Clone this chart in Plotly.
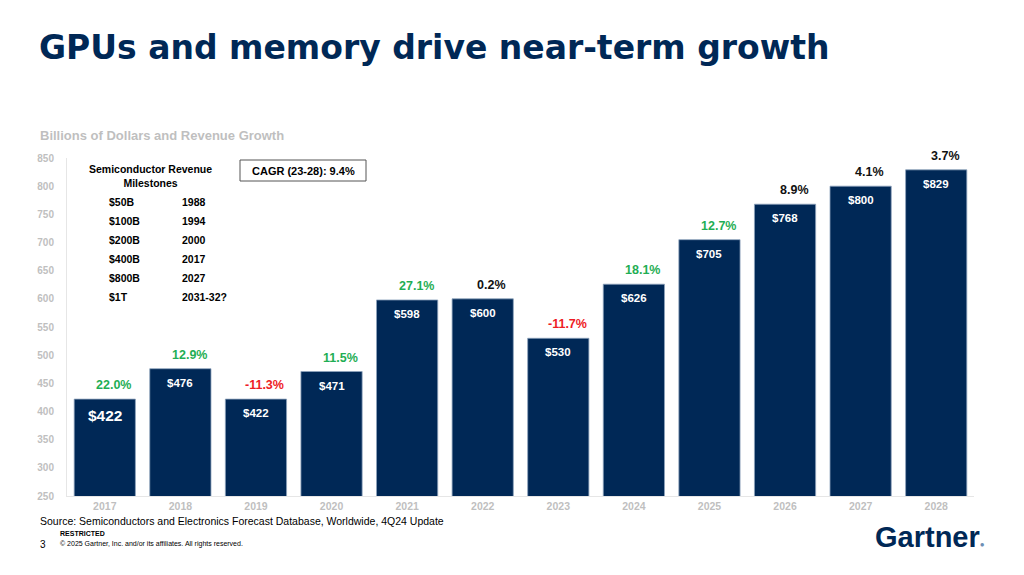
import plotly.graph_objects as go

years = ["2017", "2018", "2019", "2020", "2021", "2022", "2023", "2024", "2025", "2026", "2027", "2028"]
revenue = [422, 476, 422, 471, 598, 600, 530, 626, 705, 768, 800, 829]
growth = ["22.0%", "12.9%", "-11.3%", "11.5%", "27.1%", "0.2%", "-11.7%", "18.1%", "12.7%", "8.9%", "4.1%", "3.7%"]
growth_kind = ["up", "up", "down", "up", "up", "flat", "down", "up", "up", "flat", "flat", "flat"]
value_labels = ["$422", "$476", "$422", "$471", "$598", "$600", "$530", "$626", "$705", "$768", "$800", "$829"]
y_ticks = [250, 300, 350, 400, 450, 500, 550, 600, 650, 700, 750, 800, 850]

milestone_amounts = ["$50B", "$100B", "$200B", "$400B", "$800B", "$1T"]
milestone_years = ["1988", "1994", "2000", "2017", "2027", "2031-32?"]

NAVY = "#002856"
GREEN = "#1fae54"
RED = "#ee1c25"
GRAY = "#bfbfbf"
FONT = "Liberation Sans"
kind_color = {"up": GREEN, "down": RED, "flat": "#111111"}

W, H = 1024, 575

fig = go.Figure()
fig.add_trace(go.Bar(
    x=years, y=revenue,
    marker=dict(color=NAVY, line=dict(color="#8ea3bd", width=0.8)),
    hoverinfo="x+y",
))

annotations = []
for i, v in enumerate(revenue):
    # on a category axis a numeric x is the category index
    annotations.append(dict(
        x=i, y=v, xref="x", yref="y", text=value_labels[i], showarrow=False,
        yshift=-14 if i else -16, yanchor="middle",
        font=dict(family=FONT, size=15.5 if i == 0 else 11.5, color="white", weight="bold"),
    ))
    annotations.append(dict(
        x=i, y=v, xref="x", yref="y", text=growth[i], showarrow=False,
        yshift=14, xshift=9, yanchor="middle",
        font=dict(family=FONT, size=12.5, color=kind_color[growth_kind[i]], weight="bold"),
    ))

def px(x, y, text, size, color="black", weight="normal", xanchor="left", yanchor="middle", family=FONT):
    return dict(x=x / W, y=1 - y / H, xref="paper", yref="paper", text=text, showarrow=False,
                xanchor=xanchor, yanchor=yanchor,
                font=dict(family=family, size=size, color=color, weight=weight))

# Title
annotations.append(px(37, 47, "GPUs and memory drive near-term growth", 33, NAVY, "bold",
                      family="DejaVu Sans"))
# Subtitle
annotations.append(px(38, 135, "Billions of Dollars and Revenue Growth", 13, GRAY, "bold"))

# Milestones table
annotations.append(px(150, 176, "Semiconductor Revenue<br>Milestones", 10.5, "black", "bold", xanchor="center"))
for k, (a, yv) in enumerate(zip(milestone_amounts, milestone_years)):
    annotations.append(px(107, 202 + k * 19, a, 10.5, "black", "bold"))
    annotations.append(px(180, 202 + k * 19, yv, 10.5, "black", "bold"))

# CAGR box
annotations.append(px(303, 171, "CAGR (23-28): 9.4%", 11, "black", "bold", xanchor="center"))

# Footer
annotations.append(px(38, 521, "Source: Semiconductors and Electronics Forecast Database, Worldwide, 4Q24 Update", 10.5, "black"))
annotations.append(px(58, 533, "RESTRICTED", 7, "black", "bold"))
annotations.append(px(38, 544, "3", 10, "black"))
annotations.append(px(58, 544, "© 2025 Gartner, Inc. and/or its affiliates. All rights reserved.", 7, "black"))
annotations.append(px(987, 537, "Gartner<span style='color:#6d8fb5;font-size:8px'>●</span>", 29, NAVY, "bold",
                      xanchor="right"))

shapes = [dict(type="rect", xref="paper", yref="paper",
               x0=240 / W, x1=366 / W, y0=1 - 181 / H, y1=1 - 160 / H,
               line=dict(color="#555555", width=1), fillcolor="rgba(0,0,0,0)")]

fig.update_layout(
    width=W, height=H,
    margin=dict(l=0, r=0, t=0, b=0, autoexpand=False),
    paper_bgcolor="white", plot_bgcolor="white",
    showlegend=False,
    bargap=0.19,
    annotations=annotations,
    shapes=shapes,
    xaxis=dict(type="category", range=[-0.5, len(years) - 0.5], domain=[67 / W, 974 / W],
               showgrid=False, showline=True, linecolor="#e6e6e6", ticks="",
               tickfont=dict(family=FONT, size=10.5, color=GRAY, weight="bold")),
    yaxis=dict(domain=[1 - 496 / H, 1 - 158 / H], range=[250, 850], tickvals=y_ticks,
               showgrid=False, showline=True, linecolor="#e6e6e6", zeroline=False, ticks="",
               ticklabelstandoff=10,
               tickfont=dict(family=FONT, size=10, color=GRAY, weight="bold")),
)

fig.write_html("out.html", config={"displayModeBar": False},
               post_script="document.body.style.margin='0';document.body.style.padding='0';")
